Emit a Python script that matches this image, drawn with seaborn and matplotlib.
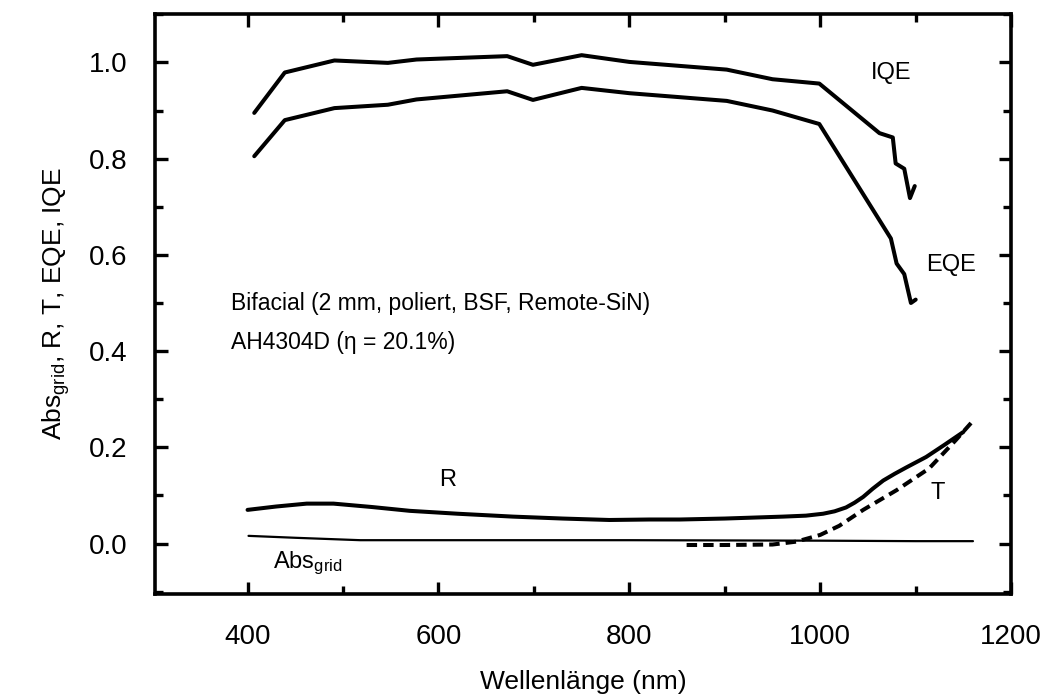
import matplotlib
matplotlib.use("Agg")
import matplotlib.pyplot as plt
import seaborn as sns
from matplotlib.ticker import MultipleLocator, FormatStrFormatter

# Internal quantum efficiency
wl_iqe = [407, 439, 491, 547, 577, 672, 699, 750, 800, 902, 950, 999, 1062, 1076, 1079, 1088, 1094, 1099]
iqe = [0.895, 0.979, 1.004, 0.999, 1.006, 1.013, 0.995, 1.015, 1.001, 0.985, 0.965, 0.956,
       0.853, 0.844, 0.790, 0.779, 0.718, 0.743]

# External quantum efficiency
wl_eqe = [407, 439, 491, 547, 577, 672, 699, 750, 800, 902, 950, 999, 1074, 1080, 1088, 1095, 1100]
eqe = [0.805, 0.880, 0.905, 0.912, 0.923, 0.940, 0.922, 0.947, 0.936, 0.920, 0.900, 0.872,
       0.634, 0.582, 0.560, 0.500, 0.507]

# Reflection
wl_r = [400, 430, 462, 490, 530, 570, 620, 678, 730, 779, 821, 853, 900, 961, 985, 1003, 1015,
        1027, 1036, 1045, 1055, 1066, 1078, 1090, 1111, 1130, 1150]
refl = [0.070, 0.077, 0.083, 0.083, 0.076, 0.068, 0.062, 0.056, 0.052, 0.049, 0.050, 0.050,
        0.052, 0.056, 0.058, 0.062, 0.067, 0.075, 0.085, 0.097, 0.114, 0.131, 0.145, 0.158,
        0.180, 0.205, 0.232]

# Transmission
wl_t = [860, 900, 950, 975, 1000, 1020, 1045, 1080, 1114, 1142, 1160]
trans = [-0.003, -0.003, -0.002, 0.004, 0.018, 0.037, 0.070, 0.111, 0.156, 0.215, 0.255]

# Absorption in the contact grid
wl_abs = [401, 450, 518, 600, 800, 1000, 1100, 1160]
abs_grid = [0.016, 0.012, 0.007, 0.007, 0.007, 0.006, 0.005, 0.005]

sns.set_style("ticks")
plt.rcParams["font.family"] = ["Liberation Sans", "DejaVu Sans"]
plt.rcParams["mathtext.fontset"] = "custom"
plt.rcParams["mathtext.rm"] = "Liberation Sans"
plt.rcParams["mathtext.it"] = "Liberation Sans"

fig = plt.figure(figsize=(10.5, 7), dpi=100)
ax = fig.add_axes([0.1476, 0.152, 0.8154, 0.8276])

lw = 2.9
sns.lineplot(x=wl_iqe, y=iqe, ax=ax, color="black", lw=lw, estimator=None, sort=False)
sns.lineplot(x=wl_eqe, y=eqe, ax=ax, color="black", lw=lw, estimator=None, sort=False)
sns.lineplot(x=wl_r, y=refl, ax=ax, color="black", lw=lw, estimator=None, sort=False)
sns.lineplot(x=wl_abs, y=abs_grid, ax=ax, color="black", lw=1.6, estimator=None, sort=False)
sns.lineplot(x=wl_t, y=trans, ax=ax, color="black", lw=lw, estimator=None, sort=False,
             dashes=False)
ax.lines[-1].set_dashes((2.6, 1.5))
for ln in ax.lines:
    ln.set_solid_capstyle("round")
    ln.set_solid_joinstyle("round")

ax.set_xlim(303, 1200)
ax.set_ylim(-0.104, 1.1)
ax.xaxis.set_major_locator(MultipleLocator(200))
ax.xaxis.set_minor_locator(MultipleLocator(100))
ax.yaxis.set_major_locator(MultipleLocator(0.2))
ax.yaxis.set_minor_locator(MultipleLocator(0.1))
ax.yaxis.set_major_formatter(FormatStrFormatter("%.1f"))

for s in ax.spines.values():
    s.set_visible(True)
    s.set_linewidth(2.6)
    s.set_color("black")

ax.tick_params(which="both", direction="in", top=True, right=True, color="black",
               labelsize=20, labelcolor="black")
ax.tick_params(which="major", length=9, width=2.4)
ax.tick_params(which="minor", length=6, width=2.4)
ax.tick_params(axis="x", which="major", pad=22)
ax.tick_params(axis="y", which="major", pad=20)

ax.set_xlabel("Wellenlänge (nm)", fontsize=19, labelpad=14, color="black")
ax.set_ylabel(r"Abs$_{\mathregular{grid}}$, R, T, EQE, IQE", fontsize=19, labelpad=12,
              color="black")

ax.text(1074, 0.978, "IQE", ha="center", va="center", color="black", fontsize=17)
ax.text(1137, 0.578, "EQE", ha="center", va="center", color="black", fontsize=17)
ax.text(610, 0.132, "R", ha="center", va="center", color="black", fontsize=17)
ax.text(1123, 0.106, "T", ha="center", va="center", color="black", fontsize=17)
ax.text(427, -0.051, r"Abs$_{\mathregular{grid}}$", ha="left", va="baseline",
        color="black", fontsize=17)
ax.text(383, 0.498, "Bifacial (2 mm, poliert, BSF, Remote-SiN)", ha="left", va="center",
        color="black", fontsize=16.5)
ax.text(383, 0.418, "AH4304D (η = 20.1%)", ha="left", va="center",
        color="black", fontsize=16.5)

fig.savefig("out.png", dpi=100)
